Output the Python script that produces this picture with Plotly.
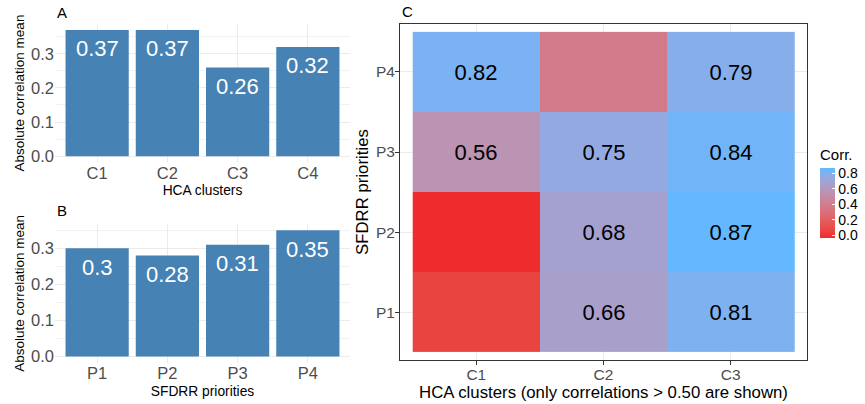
import plotly.graph_objects as go

# ---------------- data ----------------
hca_clusters = ["C1", "C2", "C3", "C4"]
hca_means = [0.37, 0.37, 0.26, 0.32]

sfdrr_priorities = ["P1", "P2", "P3", "P4"]
sfdrr_means = [0.30, 0.28, 0.31, 0.35]

heat_x = ["C1", "C2", "C3"]
heat_y = ["P1", "P2", "P3", "P4"]
heat_z = [
    [0.06, 0.66, 0.81],   # P1
    [-0.03, 0.68, 0.87],  # P2
    [0.56, 0.75, 0.84],   # P3
    [0.82, 0.38, 0.79],   # P4
]
cbar_ticks = [0.0, 0.2, 0.4, 0.6, 0.8]

# ---------------- colour helpers (Lab interpolation like ggplot) ----------------
def _lin(c):
    c = c / 255.0
    return c / 12.92 if c <= 0.04045 else ((c + 0.055) / 1.055) ** 2.4

def _unlin(c):
    c = 12.92 * c if c <= 0.0031308 else 1.055 * c ** (1 / 2.4) - 0.055
    return max(0, min(255, round(c * 255)))

WX, WY, WZ = 0.95047, 1.0, 1.08883

def _f(t):
    return t ** (1 / 3) if t > 0.008856 else 7.787 * t + 16 / 116

def _finv(t):
    return t ** 3 if t ** 3 > 0.008856 else (t - 16 / 116) / 7.787

def hex_to_lab(h):
    r, g, b = [_lin(int(h[i:i + 2], 16)) for i in (1, 3, 5)]
    X = 0.4124 * r + 0.3576 * g + 0.1805 * b
    Y = 0.2126 * r + 0.7152 * g + 0.0722 * b
    Z = 0.0193 * r + 0.1192 * g + 0.9505 * b
    fx, fy, fz = _f(X / WX), _f(Y / WY), _f(Z / WZ)
    return (116 * fy - 16, 500 * (fx - fy), 200 * (fy - fz))

def lab_to_hex(L, a, b):
    fy = (L + 16) / 116
    fx = fy + a / 500
    fz = fy - b / 200
    X, Y, Z = WX * _finv(fx), WY * _finv(fy), WZ * _finv(fz)
    r = 3.2406 * X - 1.5372 * Y - 0.4986 * Z
    g = -0.9689 * X + 1.8758 * Y + 0.0415 * Z
    bb = 0.0557 * X - 0.2040 * Y + 1.0570 * Z
    return "#%02x%02x%02x" % (_unlin(r), _unlin(g), _unlin(bb))

low_lab = hex_to_lab("#EE2C2C")
high_lab = hex_to_lab("#63B8FF")
n_stops = 21
colorscale = []
for i in range(n_stops):
    t = i / (n_stops - 1)
    lab = [low_lab[k] + (high_lab[k] - low_lab[k]) * t for k in range(3)]
    colorscale.append([t, lab_to_hex(*lab)])

# ---------------- layout geometry ----------------
W, H = 865, 404
def px_x(x):
    return x / W
def px_y(y):
    return 1 - y / H

FONT = "Liberation Sans, Arial, sans-serif"
GRID = "#EBEBEB"
MINOR = "#F2F2F2"
TICKC = "#4D4D4D"

fig = go.Figure()

# Panel A bars
fig.add_trace(go.Bar(x=hca_clusters, y=hca_means, marker_color="#4682B4",
                     marker_line_width=0, xaxis="x", yaxis="y", showlegend=False,
                     hoverinfo="skip"))
# Panel B bars
fig.add_trace(go.Bar(x=sfdrr_priorities, y=sfdrr_means, marker_color="#4682B4",
                     marker_line_width=0, xaxis="x2", yaxis="y2", showlegend=False,
                     hoverinfo="skip"))

# Panel C heatmap
heat_text = [["" if v <= 0.5 else ("%.2f" % v) for v in row] for row in heat_z]
zmin = min(min(r) for r in heat_z)
zmax = max(max(r) for r in heat_z)
fig.add_trace(go.Heatmap(
    x=heat_x, y=heat_y, z=heat_z, text=heat_text, texttemplate="%{text}",
    textfont=dict(size=22, color="black", family=FONT),
    colorscale=colorscale, zmin=zmin, zmax=zmax, xaxis="x3", yaxis="y3",
    hoverinfo="skip",
    colorbar=dict(
        title=dict(text="Corr.", side="top", font=dict(size=15, color="black", family=FONT)),
        tickvals=cbar_ticks, ticktext=["%.1f" % v for v in cbar_ticks],
        tickfont=dict(size=14, color="black", family=FONT),
        ticks="inside", ticklen=3, tickcolor="white", tickwidth=1,
        thickness=15, lenmode="pixels", len=92,
        x=px_x(820), xanchor="left", y=px_y(239), yanchor="bottom",
        outlinewidth=0, xpad=0, ypad=0,
    ),
))

# bar value labels
annotations = []
for c, v in zip(hca_clusters, hca_means):
    annotations.append(dict(x=c, y=v, xref="x", yref="y", text=str(round(v, 2)),
                            showarrow=False, yshift=-19,
                            font=dict(size=22, color="white", family=FONT)))
for c, v in zip(sfdrr_priorities, sfdrr_means):
    annotations.append(dict(x=c, y=v, xref="x2", yref="y2", text=str(round(v, 2)),
                            showarrow=False, yshift=-19,
                            font=dict(size=22, color="white", family=FONT)))
# panel tags
for lab, x, y in [("A", 55, 13), ("B", 55, 212), ("C", 400, 12)]:
    annotations.append(dict(x=px_x(x), y=px_y(y), xref="paper", yref="paper", text=lab,
                            showarrow=False, xanchor="left", yanchor="middle",
                            font=dict(size=15, color="black", family=FONT)))

bar_x_common = dict(
    type="category", range=[-0.6, 3.6], showgrid=True, gridcolor=GRID, gridwidth=1,
    zeroline=False, showline=False, ticks="", tickfont=dict(size=16.5, color=TICKC, family=FONT),
    ticklabelstandoff=-1,
    title_font=dict(size=13.8, color="black", family=FONT), title_standoff=4,
)
bar_y_common = dict(
    showgrid=True, gridcolor=GRID, gridwidth=1, zeroline=False, showline=False,
    tickvals=[0, 0.1, 0.2, 0.3], ticktext=["0.0", "0.1", "0.2", "0.3"],
    minor=dict(tickvals=[0.05, 0.15, 0.25, 0.35], showgrid=True, gridcolor=MINOR, gridwidth=1),
    tickfont=dict(size=16.5, color=TICKC, family=FONT),
    title_font=dict(size=13.5, color="black", family=FONT), title_standoff=3,
)

fig.update_layout(
    width=W, height=H, margin=dict(l=0, r=0, t=0, b=0),
    paper_bgcolor="white", plot_bgcolor="white", bargap=0.1,
    font=dict(family=FONT),
    annotations=annotations,
    xaxis=dict(bar_x_common, domain=[px_x(55), px_x(350)], anchor="y",
               title_text="HCA clusters"),
    yaxis=dict(bar_y_common, domain=[px_y(163.3), px_y(23.7)], anchor="x",
               range=[-0.0185, 0.3885], title_text="Absolute correlation mean"),
    xaxis2=dict(bar_x_common, domain=[px_x(55), px_x(350)], anchor="y2",
                title_text="SFDRR priorities"),
    yaxis2=dict(bar_y_common, domain=[px_y(364.7), px_y(225)], anchor="x2",
                range=[-0.0175, 0.3675], title_text="Absolute correlation mean"),
    xaxis3=dict(type="category", range=[-0.6, 2.6], domain=[px_x(400), px_x(807)], anchor="y3",
                showgrid=True, gridcolor=GRID, zeroline=False,
                showline=True, mirror=True, linecolor="#333333", linewidth=1,
                ticks="outside", ticklen=4, tickcolor="#333333",
                tickfont=dict(size=15.5, color=TICKC, family=FONT), ticklabelstandoff=-4,
                title_text="HCA clusters (only correlations > 0.50 are shown)",
                title_font=dict(size=16.8, color="black", family=FONT), title_standoff=3),
    yaxis3=dict(type="category", range=[-0.6, 3.6], domain=[px_y(362), px_y(24)], anchor="x3",
                showgrid=True, gridcolor=GRID, zeroline=False,
                showline=True, mirror=True, linecolor="#333333", linewidth=1,
                ticks="outside", ticklen=4, tickcolor="#333333",
                tickfont=dict(size=15.5, color=TICKC, family=FONT), ticklabelstandoff=-3,
                title_text="SFDRR priorities",
                title_font=dict(size=16.8, color="black", family=FONT), title_standoff=3),
)

fig.write_html("out.html")
